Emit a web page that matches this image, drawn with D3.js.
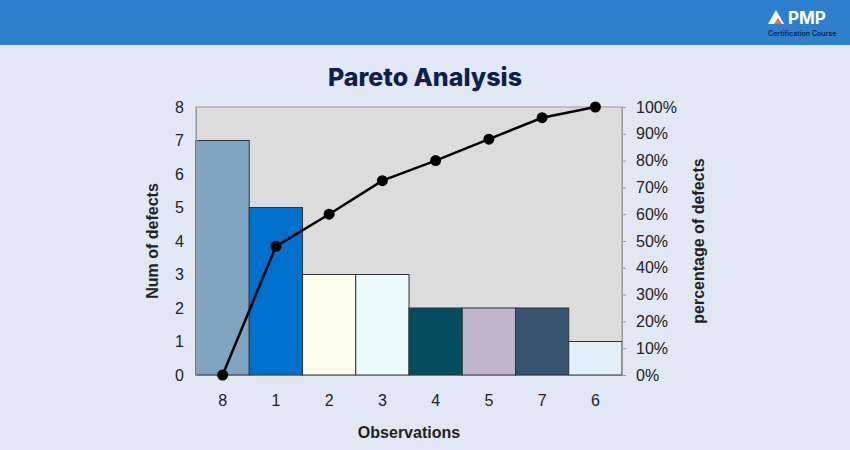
<!DOCTYPE html>
<html lang="en">
<head>
<meta charset="utf-8">
<script src="https://d3js.org/d3.v7.min.js"></script>
<style>
  body { margin: 0; background: #e1e7f3; }
  svg { display: block; font-family: Arial, "Liberation Sans", sans-serif; }
</style>
</head>
<body>
<div id="chart"></div>
<script>
  var categories = ["8", "1", "2", "3", "4", "5", "7", "6"]
  var defects = [7, 5, 3, 3, 2, 2, 2, 1]
  var cumPercent = [0, 48, 60, 72.5, 80, 88, 96, 100]
  var barColors = ["#7fa5c1", "#0070cc", "#fbfcee", "#ecfcfc", "#024e5e", "#bfb4c8", "#35526e", "#e3eff8"]
  var leftTicks = [0, 1, 2, 3, 4, 5, 6, 7, 8]
  var rightTicks = [0, 10, 20, 30, 40, 50, 60, 70, 80, 90, 100]

  var W = 850, H = 450
  var m = { left: 196, right: 228, top: 107, bottom: 75 }

  var svg = d3.select('#chart').append('svg').attr('width', W).attr('height', H)
  svg.append('rect').attr('width', W).attr('height', H).attr('fill', '#e1e7f3')
  svg.append('rect').attr('width', W).attr('height', 45).attr('fill', '#2f80cc')

  // logo
  var logo = svg.append('g').attr('transform', 'translate(768,8)')
  logo.append('path').attr('d', 'M0,16 L8,2 L16,16 Z').attr('fill', '#fff')
  logo.append('path').attr('d', 'M6,16 L10,10 L14,16 Z').attr('fill', '#f26b3a')
  logo.append('text').attr('x', 20).attr('y', 16).attr('fill', '#fff')
    .attr('font-family', 'Inter').attr('font-weight', 700).attr('font-size', 17).text('PMP')
  logo.append('text').attr('x', 0).attr('y', 28).attr('fill', '#0d1f4a')
    .attr('font-family', 'Inter').attr('font-weight', 600).attr('font-size', 7).text('Certification Course')

  svg.append('text').attr('x', 425).attr('y', 86).attr('text-anchor', 'middle')
    .attr('font-family', 'Inter').attr('font-weight', 800).attr('font-size', 25)
    .attr('fill', '#0d1f4a').text('Pareto Analysis')

  var x = d3.scaleBand().domain(categories).range([m.left, W - m.right])
  var y = d3.scaleLinear().domain([0, 8]).range([H - m.bottom, m.top])
  var yp = d3.scaleLinear().domain([0, 100]).range([H - m.bottom, m.top])

  svg.append('rect').attr('x', m.left).attr('y', m.top)
    .attr('width', W - m.left - m.right).attr('height', H - m.top - m.bottom)
    .attr('fill', '#dcdcdc').attr('stroke', '#999')

  svg.selectAll('.bar').data(defects).enter().append('rect')
    .attr('x', function (d, i) { return x(categories[i]) })
    .attr('y', function (d) { return y(d) })
    .attr('width', x.bandwidth())
    .attr('height', function (d) { return y(0) - y(d) })
    .attr('fill', function (d, i) { return barColors[i] })
    .attr('stroke', '#333').attr('stroke-width', 1)

  var axL = svg.append('g').attr('transform', 'translate(' + m.left + ',0)')
    .call(d3.axisLeft(y).tickValues(leftTicks).tickSize(0).tickPadding(12))
  var axR = svg.append('g').attr('transform', 'translate(' + (W - m.right) + ',0)')
    .call(d3.axisRight(yp).tickValues(rightTicks).tickSize(4).tickPadding(10)
      .tickFormat(function (d) { return d + '%' }))
  var axB = svg.append('g').attr('transform', 'translate(0,' + (H - m.bottom) + ')')
    .call(d3.axisBottom(x).tickSize(0).tickPadding(20))
  ;[axL, axR, axB].forEach(function (a) {
    a.select('.domain').attr('stroke', '#999')
    a.selectAll('line').attr('stroke', '#999')
    a.selectAll('text').attr('font-size', 16).attr('fill', '#222')
  })
  axB.select('.domain').remove()

  var line = d3.line()
    .x(function (d, i) { return x(categories[i]) + x.bandwidth() / 2 })
    .y(function (d) { return yp(d) })
  svg.append('path').datum(cumPercent).attr('d', line)
    .attr('fill', 'none').attr('stroke', '#000').attr('stroke-width', 2.5)
  svg.selectAll('.dot').data(cumPercent).enter().append('circle')
    .attr('cx', function (d, i) { return x(categories[i]) + x.bandwidth() / 2 })
    .attr('cy', function (d) { return yp(d) })
    .attr('r', 5.5).attr('fill', '#000')

  svg.append('text').attr('x', 409).attr('y', 438).attr('text-anchor', 'middle')
    .attr('font-weight', 700).attr('font-size', 16).attr('fill', '#222').text('Observations')
  svg.append('text').attr('transform', 'translate(158,241) rotate(-90)').attr('text-anchor', 'middle')
    .attr('font-weight', 700).attr('font-size', 16).attr('fill', '#222').text('Num of defects')
  svg.append('text').attr('transform', 'translate(704,241) rotate(-90)').attr('text-anchor', 'middle')
    .attr('font-weight', 700).attr('font-size', 16).attr('fill', '#222').text('percentage of defects')
</script>
</body>
</html>
